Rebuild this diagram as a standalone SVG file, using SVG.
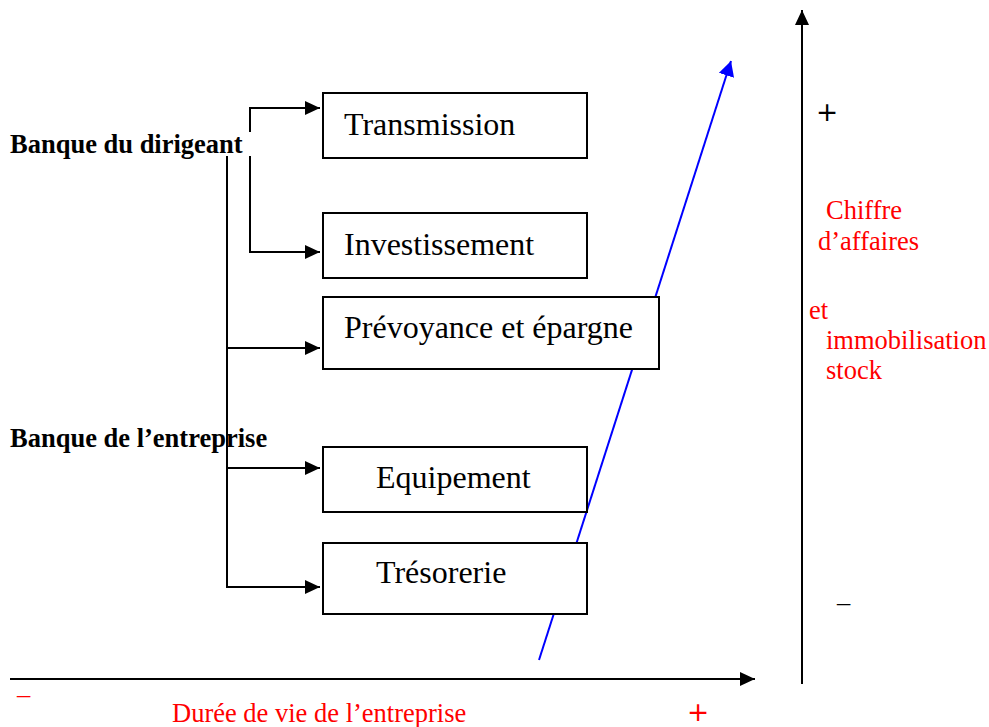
<svg xmlns="http://www.w3.org/2000/svg" width="989" height="727" viewBox="0 0 989 727">
<style>
.box{fill:#fff;stroke:#000;stroke-width:2}
.bt{font-family:"Liberation Serif",serif;font-size:32px;fill:#000}
.lb{font-family:"Liberation Serif",serif;font-size:26.5px;font-weight:bold;fill:#000}
.rt{font-family:"Liberation Serif",serif;font-size:26.5px;fill:#f00}
.sg{font-family:"Liberation Serif",serif;font-size:26.5px;fill:#000}
.pl{font-family:"DejaVu Sans",sans-serif}
.ln{fill:none;stroke:#000;stroke-width:2}
</style>
<defs>
<marker id="ah" markerUnits="userSpaceOnUse" markerWidth="16" markerHeight="14" refX="15" refY="7" orient="auto"><path d="M0,0 L15,7 L0,14 Z" fill="#000"/></marker>
<marker id="ahb" markerUnits="userSpaceOnUse" markerWidth="16" markerHeight="16" refX="15" refY="8" orient="auto"><path d="M0,0 L15,8 L0,16 Z" fill="#00f"/></marker>
</defs>
<g id="connectors">
<polyline class="ln" points="250,132 250,108 320,108" marker-end="url(#ah)"/>
<polyline class="ln" points="250,156 250,252 320,252" marker-end="url(#ah)"/>
<line class="ln" x1="227" y1="156" x2="227" y2="587"/>
<line class="ln" x1="227" y1="348" x2="320" y2="348" marker-end="url(#ah)"/>
<line class="ln" x1="227" y1="468" x2="320" y2="468" marker-end="url(#ah)"/>
<line class="ln" x1="226" y1="587" x2="320" y2="587" marker-end="url(#ah)"/>
<line class="ln" x1="10" y1="679" x2="755" y2="679" marker-end="url(#ah)"/>
<line class="ln" x1="802" y1="684" x2="802" y2="10" marker-end="url(#ah)"/>
<line x1="539" y1="660" x2="731" y2="61" stroke="#00f" stroke-width="2" marker-end="url(#ahb)"/>
</g>
<g id="transmission"><rect class="box" x="323" y="93" width="264" height="65"/><text class="bt" x="344" y="135">Transmission</text></g>
<g id="investissement"><rect class="box" x="323" y="213" width="264" height="65"/><text class="bt" x="344" y="255">Investissement</text></g>
<g id="prevoyance"><rect class="box" x="323" y="297" width="336" height="72"/><text class="bt" x="344" y="338">Prévoyance et épargne</text></g>
<g id="equipement"><rect class="box" x="323" y="447" width="264" height="65"/><text class="bt" x="376" y="488">Equipement</text></g>
<g id="tresorerie"><rect class="box" x="323" y="543" width="264" height="71"/><text class="bt" x="376" y="583">Trésorerie</text></g>
<g id="labels">
<text class="lb" x="10" y="153">Banque du dirigeant</text>
<text class="lb" x="10" y="447">Banque de l’entreprise</text>
<text class="sg pl" x="816" y="121" font-size="25">+</text>
<text class="sg" x="837" y="611">–</text>
<text class="rt" x="826" y="219">Chiffre</text>
<text class="rt" x="818" y="250">d’affaires</text>
<text class="rt" x="809" y="319">et</text>
<text class="rt" x="826" y="349">immobilisation</text>
<text class="rt" x="826" y="379">stock</text>
<text class="rt" x="17" y="703">–</text>
<text class="rt" x="172" y="722">Durée de vie de l’entreprise</text>
<text class="rt pl" x="687" y="721" font-size="19">+</text>
</g>
</svg>
